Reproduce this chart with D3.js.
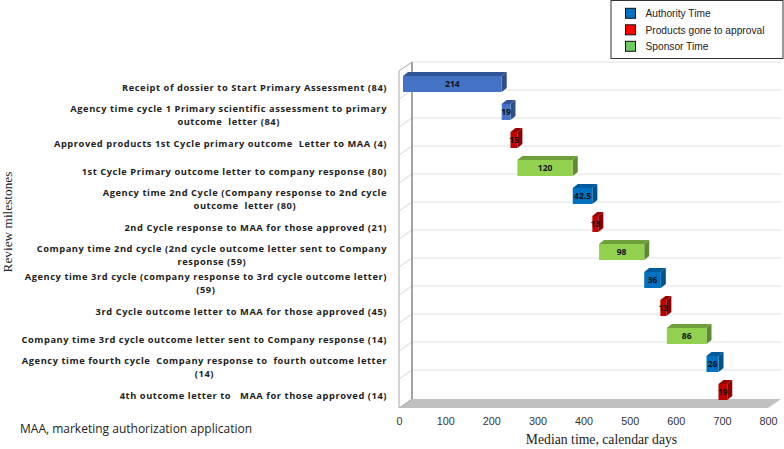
<!DOCTYPE html>
<html><head><meta charset="utf-8">
<script src="https://cdn.jsdelivr.net/npm/d3@7/dist/d3.min.js"></script>
<style>html,body{margin:0;padding:0;background:#fff}svg{display:block}</style>
</head><body><svg id="c" width="784" height="449"></svg>
<script>
const categories = [
 ["Receipt of dossier to Start Primary Assessment (84)"],
 ["Agency time cycle 1 Primary scientific assessment to primary","outcome  letter (84)"],
 ["Approved products 1st Cycle primary outcome  Letter to MAA (4)"],
 ["1st Cycle Primary outcome letter to company response (80)"],
 ["Agency time 2nd Cycle (Company response to 2nd cycle","outcome  letter (80)"],
 ["2nd Cycle response to MAA for those approved (21)"],
 ["Company time 2nd cycle (2nd cycle outcome letter sent to Company","response (59)"],
 ["Agency time 3rd cycle (company response to 3rd cycle outcome letter)","(59)"],
 ["3rd Cycle outcome letter to MAA for those approved (45)"],
 ["Company time 3rd cycle outcome letter sent to Company response (14)"],
 ["Agency time fourth cycle  Company response to  fourth outcome letter","(14)"],
 ["4th outcome letter to   MAA for those approved (14)"]
];
const starts = [0,214,233,248,368,410.5,425,523,558,572,658,684];
const durations = [214,19,15,120,42.5,13,98,36,13,86,26,19];
const valueLabels = ["214","19","15","120","42.5","13","98","36","13","86","26","19"];
const barKinds = ["first","first","approval","sponsor","authority","approval","sponsor","authority","approval","sponsor","authority","approval"];
const kindNames = ["first","authority","approval","sponsor"];
const frontColors = ["#4472c4","#0070c0","#c00000","#92d050"];
const topColors = ["#2f5597","#005a9e","#9a0000","#6f9f3a"];
const sideColors = ["#2f4f8a","#00508a","#8a0000","#5f8a30"];
const legendNames = ["Authority Time","Products gone to approval","Sponsor Time"];
const legendColors = ["#0070c0","#ff0000","#70c860"];
const xTicks = [0,100,200,300,400,500,600,700,800];

const svg = d3.select("#c");
const dx = 13, dy = 9;          // depth of the 3D box
const x = d3.scaleLinear().domain([0,800]).range([399,768]);
const y = d3.scaleBand().domain(d3.range(categories.length)).range([71,407]);
const front = d3.scaleOrdinal().domain(kindNames).range(frontColors);
const topC = d3.scaleOrdinal().domain(kindNames).range(topColors);
const side = d3.scaleOrdinal().domain(kindNames).range(sideColors);

// floor
const x0=x(0), x1=x(800), yT=y.range()[0], yB=y.range()[1]+1;
svg.append("polygon").attr("fill","#c0c0c0")
  .attr("points",`${x0},${yB} ${x1},${yB} ${x1+dx},${yB-dy} ${x0+dx},${yB-dy}`);

// back wall grid
const grid = svg.append("g").attr("stroke","#e2e2e2").attr("stroke-width",1.2).attr("fill","none");
d3.range(0,categories.length).forEach(i=>{
  const yy = y(i)-dy;
  grid.append("line").attr("x1",x0+dx).attr("x2",x1+dx).attr("y1",yy).attr("y2",yy);
  if(i>0) grid.append("line").attr("x1",x0).attr("x2",x0+dx).attr("y1",yy+dy).attr("y2",yy);
});
// walls
svg.append("line").attr("x1",x0+dx).attr("x2",x0+dx).attr("y1",yT-dy).attr("y2",yB-dy).attr("stroke","#8c8c8c").attr("stroke-width",1.6);
svg.append("path").attr("fill","none").attr("stroke","#a8a8a8").attr("stroke-width",1)
  .attr("d",`M${x0+dx},${yT-dy}L${x0},${yT}L${x0},${yB}L${x0+dx},${yB-dy}`);

// bars
const bh = 16, bdx = 5, bdy = 4, bOff = 4;
const marks = svg.append("g");
durations.forEach((d,i)=>{
  const k = barKinds[i];
  const l = x(starts[i])+bOff, r = x(starts[i]+d)+bOff;
  const b = y(i)+y.bandwidth()-7, t = b-bh;
  marks.append("polygon").attr("fill",topC(k)).attr("points",`${l},${t} ${l+bdx},${t-bdy} ${r+bdx},${t-bdy} ${r},${t}`);
  marks.append("polygon").attr("fill",side(k)).attr("points",`${r},${t} ${r+bdx},${t-bdy} ${r+bdx},${b-bdy} ${r},${b}`);
  marks.append("rect").attr("x",l).attr("y",t).attr("width",r-l).attr("height",bh).attr("fill",front(k));
  marks.append("text").attr("x",(l+r)/2).attr("y",t+bh/2+3).attr("text-anchor","middle")
    .attr("font-family","'Open Sans'").attr("font-weight",700).attr("font-size",8.5).attr("fill","#111").text(valueLabels[i]);
});

// x axis
const ax = svg.append("g").attr("transform",`translate(0,${yB})`)
  .call(d3.axisBottom(x).tickValues(xTicks).tickSize(0).tickPadding(9).tickFormat(d3.format("d")));
ax.select(".domain").remove();
ax.selectAll("text").attr("font-family","'Liberation Sans'").attr("font-size",10.8).attr("fill","#333");

// category labels: single lines end at the axis, wrapped lines are centred on each other
const cat = svg.append("g").attr("font-family","'Open Sans'").attr("font-weight",700).attr("font-size",9.3)
  .attr("fill","#222").attr("letter-spacing",0.56);
categories.forEach((lines,i)=>{
  const cy = y(i)+y.bandwidth()/2+2.5;
  const first = cat.append("text").style("white-space","pre").text(lines[0]).attr("x",387).attr("text-anchor","end");
  if(lines.length===1){ first.attr("y",cy+3); return; }
  first.attr("y",cy-3.3);
  const centre = 387-first.node().getComputedTextLength()/2;
  cat.append("text").style("white-space","pre").text(lines[1]).attr("x",centre).attr("y",cy+9.3).attr("text-anchor","middle");
});

// text labels
svg.append("text").attr("x",20).attr("y",433).attr("font-family","'Open Sans'").attr("font-size",12).attr("fill","#222")
  .text("MAA, marketing authorization application");
svg.append("text").attr("x",601.5).attr("y",444).attr("text-anchor","middle").attr("font-family","'Liberation Serif'").attr("font-size",13.7).attr("fill","#222")
  .text("Median time, calendar days");
svg.append("text").attr("transform","translate(12,222) rotate(-90)").attr("text-anchor","middle")
  .attr("font-family","'Liberation Serif'").attr("font-size",13.3).attr("fill","#222").text("Review milestones");

// legend
const lg = svg.append("g");
lg.append("rect").attr("x",611).attr("y",0.5).attr("width",172).attr("height",58).attr("fill","#fff").attr("stroke","#333").attr("stroke-width",1);
legendNames.forEach((n,i)=>{
  const ly = 13.3+i*16.5;
  lg.append("rect").attr("x",625.5).attr("y",ly-5).attr("width",10).attr("height",10).attr("fill",legendColors[i]).attr("stroke","#111");
  lg.append("text").attr("x",645.5).attr("y",ly+3.7).attr("font-family","'Liberation Sans'").attr("font-size",10.2).attr("fill","#222").text(n);
});
</script></body></html>
